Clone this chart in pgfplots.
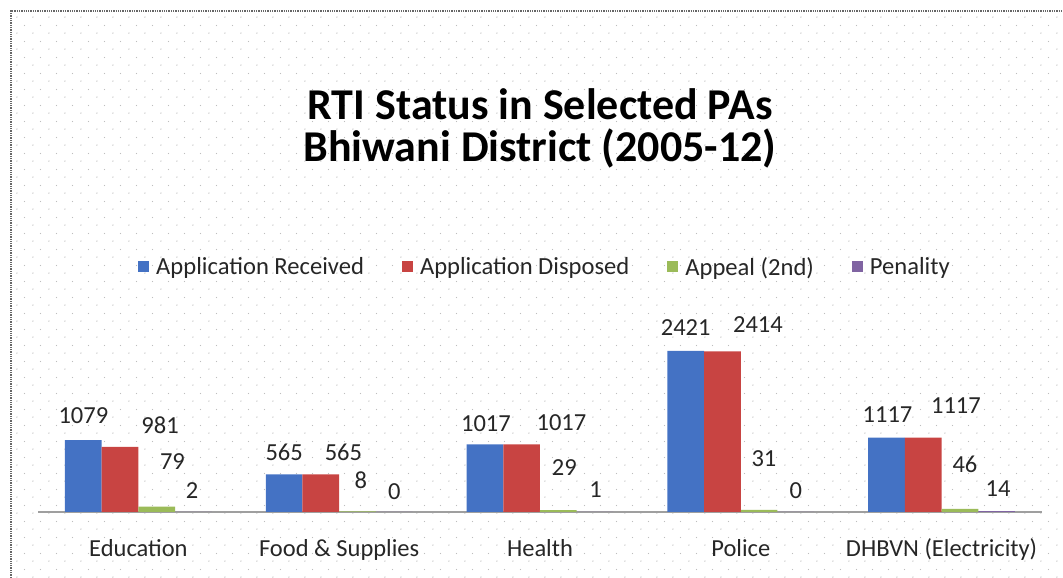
\documentclass[border=0pt]{standalone}
\usepackage{fontspec}
\setmainfont{Carlito}
\usepackage{pgfplots}
\pgfplotsset{compat=1.18}
\usepackage{pgfplotstable}
\usetikzlibrary{patterns.meta}
\definecolor{cBlue}{RGB}{68,114,196}
\definecolor{cRed}{RGB}{200,68,66}
\definecolor{cGreen}{RGB}{155,187,89}
\definecolor{cPurple}{RGB}{128,100,162}
\definecolor{dotc}{RGB}{190,190,190}
\tikzdeclarepattern{
  name=bgdots,
  type=uncolored,
  bounding box={(0pt,0pt) and (16pt,16pt)},
  tile size={(16pt,16pt)},
  code={
    \fill (1pt,1pt) circle (0.75pt);
    \fill (9pt,9pt) circle (0.75pt);
  }
}
% x: category index, y: value, dx/dy: label offsets (pt)
\pgfplotstableread{
x y dx dy
0 1079 0 25
1 565 0 22
2 1017 1 21
3 2421 0 23
4 1117 1 23
}\received
\pgfplotstableread{
x y dx dy
0 981 40 22
1 565 22.6 22.4
2 1017 39.8 21.4
3 2414 35.5 26.5
4 1117 32.7 31.7
}\disposed
\pgfplotstableread{
x y dx dy
0 79 15.7 44.7
1 8 3.4 31.5
2 29 6 42.6
3 31 4.8 51
4 46 5 45
}\appeal
\pgfplotstableread{
x y dx dy
0 2 -1.4 21
1 0 0 20
2 1 0.5 22
3 0 0 21
4 14 1.4 22
}\penality
\begin{document}
\begin{tikzpicture}[x=1pt,y=1pt]
\useasboundingbox (0,0) rectangle (1063,578);
\fill[pattern=bgdots, pattern color=dotc] (12,0) rectangle (1063,566);
\draw[gray!80!black, densely dotted, line width=1.3pt] (11,0) -- (11,567) -- (1063,567);
\node[anchor=base, font=\fontsize{44}{44}\selectfont\bfseries] at (540,458) {RTI Status in Selected PAs};
\node[anchor=base, font=\fontsize{44}{44}\selectfont\bfseries] at (540,416) {Bhiwani District (2005-12)};
\begin{axis}[
  at={(38pt,66pt)}, anchor=south west,
  scale only axis,
  width=1004pt, height=161pt,
  xmin=-0.5, xmax=4.5, ymin=0, ymax=2421,
  clip=false,
  axis y line=none,
  axis x line=bottom,
  x axis line style={draw=gray!75, line width=1.2pt, -},
  xtick={0,1,2,3,4},
  xticklabels={Education, Food \& Supplies, Health, Police, DHBVN (Electricity)},
  major tick length=0pt,
  xticklabel style={anchor=base, inner sep=0pt, yshift=-45pt, font=\fontsize{24.5}{24.5}\selectfont, text=black!85},
  ybar=0pt, bar width=36.7pt,
  nodes near coords,
  /pgf/number format/assume math mode=true,
  /pgf/number format/1000 sep={},
  visualization depends on={\thisrow{dx} \as \dx},
  visualization depends on={\thisrow{dy} \as \dy},
  nodes near coords style={anchor=center, inner sep=0pt, xshift=\dx pt, yshift=\dy pt, font=\fontsize{24.5}{24.5}\selectfont, text=black!85},
  legend columns=4,
  legend style={at={(507pt,245pt)}, anchor=center, draw=none, fill=none,
    font=\fontsize{24.6}{24.6}\selectfont, text=black!85,
    /tikz/every odd column/.append style={column sep=5pt},
    /tikz/every even column/.append style={column sep=36pt}},
  legend image code/.code={\fill[#1] (0pt,-5.5pt) rectangle (11pt,5.5pt);},
]
\addplot[fill=cBlue, draw=none] table[x=x,y=y] {\received};
\addplot[fill=cRed, draw=none] table[x=x,y=y] {\disposed};
\addplot[fill=cGreen, draw=none] table[x=x,y=y] {\appeal};
\addplot[fill=cPurple, draw=none] table[x=x,y=y] {\penality};
\legend{Application Received, Application Disposed, Appeal (2nd), Penality}
\end{axis}
\end{tikzpicture}
\end{document}
